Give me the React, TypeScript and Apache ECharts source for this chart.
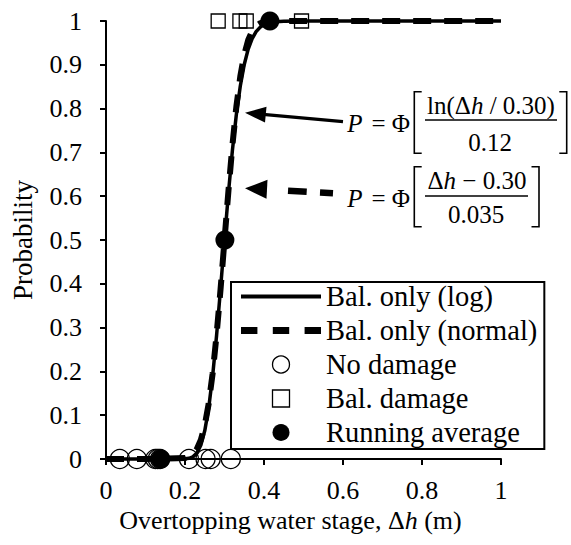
import React, { useEffect, useRef } from "react";
import * as echarts from "echarts";

// ---------- data ----------
const hValues = [0, 0.1, 0.2, 0.21, 0.22, 0.23, 0.24, 0.25, 0.26, 0.27, 0.28, 0.29, 0.3, 0.31, 0.32, 0.33, 0.34, 0.35, 0.36, 0.37, 0.38, 0.39, 0.4, 0.42, 0.45, 0.5, 0.6, 0.8, 1];
const pLog = [0, 0, 0.0004, 0.0015, 0.0049, 0.0134, 0.0314, 0.0643, 0.1164, 0.1899, 0.2826, 0.3888, 0.5, 0.6076, 0.7047, 0.7864, 0.8515, 0.9006, 0.9357, 0.9597, 0.9756, 0.9856, 0.9917, 0.9975, 0.9996, 1, 1, 1, 1];
const pNormal = [0, 0, 0.0021, 0.0051, 0.0111, 0.0228, 0.0433, 0.0766, 0.1265, 0.1957, 0.284, 0.3875, 0.5, 0.6125, 0.716, 0.8043, 0.8735, 0.9234, 0.9567, 0.9772, 0.9889, 0.9949, 0.9979, 0.9997, 1, 1, 1, 1, 1];

const noDamageX = [0.035, 0.078, 0.125, 0.131, 0.137, 0.21, 0.252, 0.265, 0.316];
const noDamageY = [0, 0, 0, 0, 0, 0, 0, 0, 0];
const balDamageX = [0.284, 0.339, 0.355, 0.495];
const balDamageY = [1, 1, 1, 1];
const runAvgX = [0.138, 0.301, 0.415];
const runAvgY = [0, 0.5, 1];

const seriesNames = ["Bal. only (log)", "Bal. only (normal)", "No damage", "Bal. damage", "Running average"];
const xTitle = "Overtopping water stage, Δ";
const yTitle = "Probability";

// ---------- styles ----------
const SERIF = "Liberation Serif";
const FS = 26;
const EQ = 25;

function txt(text: string, x: number, y: number, size = EQ, italic = false) {
  return {
    type: "text",
    silent: true,
    style: {
      text,
      x,
      y,
      fill: "#000",
      font: `${italic ? "italic " : ""}${size}px 'Liberation Serif', serif`,
      textAlign: "center",
      textVerticalAlign: "middle",
      align: "center",
      verticalAlign: "middle",
    },
  };
}

function richTxt(text: string, x: number, y: number, size = EQ) {
  return {
    type: "text",
    silent: true,
    style: {
      text,
      x,
      y,
      fill: "#000",
      fontFamily: SERIF,
      fontSize: size,
      textAlign: "center",
      textVerticalAlign: "middle",
      align: "center",
      verticalAlign: "middle",
      rich: {
        r: { fontFamily: SERIF, fontSize: size, fill: "#000" },
        i: { fontFamily: SERIF, fontSize: size, fontStyle: "italic", fill: "#000" },
      },
    },
  };
}

function seg(x1: number, y1: number, x2: number, y2: number, w: number) {
  return {
    type: "line",
    silent: true,
    shape: { x1, y1, x2, y2 },
    style: { stroke: "#000", lineWidth: w },
  };
}

function bracket(xv: number, xs: number, y1: number, y2: number) {
  return {
    type: "polyline",
    silent: true,
    shape: { points: [[xs, y1], [xv, y1], [xv, y2], [xs, y2]] },
    style: { stroke: "#000", lineWidth: 1.6, fill: null },
  };
}

function head(points: number[][]) {
  return {
    type: "polygon",
    silent: true,
    shape: { points },
    style: { fill: "#000" },
  };
}

function buildGraphic() {
  return [
    // solid arrow
    seg(343, 121.7, 263, 114.3, 3.2),
    head([[245, 112.7], [266.5, 106.8], [265, 122.6]]),
    // dashed arrow
    seg(288, 190.7, 306.7, 191.8, 6.5),
    seg(320, 192.6, 333, 193.3, 6.5),
    head([[245, 188.3], [267.5, 179.8], [266.5, 198.8]]),
    // formula 1
    txt("P", 355, 123, EQ, true),
    txt("=", 378.5, 123, EQ),
    txt("Φ", 401, 123, EQ),
    bracket(414.3, 421.7, 91.7, 153.3),
    richTxt("{r|ln(Δ}{i|h}{r| / 0.30)}", 491, 105, EQ),
    seg(425, 120, 557, 120, 1.3),
    txt("0.12", 490, 142.5, EQ),
    bracket(566.7, 559.3, 91.7, 153.3),
    // formula 2
    txt("P", 355, 198.5, EQ, true),
    txt("=", 378.5, 198.5, EQ),
    txt("Φ", 401, 198.5, EQ),
    bracket(414.3, 421.7, 166.7, 226.7),
    richTxt("{r|Δ}{i|h}{r| − 0.30}", 477, 180, EQ),
    seg(425, 196, 528, 196, 1.3),
    txt("0.035", 476, 214, EQ),
    bracket(539, 531.5, 166.7, 226.7),
  ];
}

const ICON_SOLID = "path://M0,0H78V4H0Z";
const ICON_DASH = "path://M0,0H16V7H0ZM31,0H47V7H31ZM62,0H78V7H62Z";
const ICON_SQUARE = "path://M0,0H14V14H0Z";

function buildOption() {
  const pairs = (xs: number[], ys: number[]) => xs.map((x, i) => [x, ys[i]]);
  const axisText = { fontFamily: SERIF, fontSize: FS, color: "#000" };
  const openMark = { color: "rgba(0,0,0,0)", borderColor: "#000", borderWidth: 1.3, opacity: 1 };
  return {
    animation: false,
    backgroundColor: "#fff",
    textStyle: { fontFamily: SERIF },
    grid: { left: 106, right: 70, top: 21, bottom: 86, containLabel: false },
    xAxis: {
      type: "value",
      min: 0,
      max: 1,
      interval: 0.2,
      name: `{a|${xTitle}}{i|h}{a| (m)}`,
      nameLocation: "middle",
      nameGap: 46,
      nameTextStyle: {
        fontFamily: SERIF,
        fontSize: FS,
        padding: [0, 26, 0, 0],
        rich: {
          a: { fontFamily: SERIF, fontSize: FS, color: "#000" },
          i: { fontFamily: SERIF, fontSize: FS, color: "#000", fontStyle: "italic" },
        },
      },
      axisLine: { show: true, onZero: false, lineStyle: { color: "#000", width: 2 } },
      axisTick: { show: true, inside: false, length: 6, lineStyle: { color: "#000", width: 2 } },
      axisLabel: { ...axisText, margin: 18 },
      splitLine: { show: false },
    },
    yAxis: {
      type: "value",
      min: 0,
      max: 1,
      interval: 0.1,
      name: yTitle,
      nameLocation: "middle",
      nameGap: 70,
      nameTextStyle: { fontFamily: SERIF, fontSize: 27, color: "#000" },
      axisLine: { show: true, onZero: false, lineStyle: { color: "#000", width: 2 } },
      axisTick: { show: true, inside: false, length: 6, lineStyle: { color: "#000", width: 2 } },
      axisLabel: { ...axisText, margin: 24 },
      splitLine: { show: false },
    },
    legend: {
      orient: "vertical",
      left: 231,
      top: 282,
      itemWidth: 80,
      itemHeight: 17,
      itemGap: 5,
      padding: [0, 7, 2, 10],
      borderColor: "#000",
      borderWidth: 2,
      backgroundColor: "#fff",
      selectedMode: false,
      textStyle: { fontFamily: SERIF, fontSize: 28.5, color: "#000", lineHeight: 26 },
      data: [
        { name: seriesNames[0], icon: ICON_SOLID, itemStyle: { color: "#000", borderWidth: 0, opacity: 1 } },
        { name: seriesNames[1], icon: ICON_DASH, itemStyle: { color: "#000", borderWidth: 0, opacity: 1 } },
        { name: seriesNames[2], icon: "circle", itemStyle: openMark },
        { name: seriesNames[3], icon: ICON_SQUARE, itemStyle: openMark },
        { name: seriesNames[4], icon: "circle", itemStyle: { color: "#000", borderColor: "#000", borderWidth: 0, opacity: 1 } },
      ],
    },
    series: [
      {
        name: seriesNames[0],
        type: "line",
        data: pairs(hValues, pLog),
        symbol: "none",
        clip: false,
        lineStyle: { color: "#000", width: 3.5, type: "solid", opacity: 1 },
        itemStyle: { color: "#000" },
        z: 2,
      },
      {
        name: seriesNames[1],
        type: "line",
        data: pairs(hValues, pNormal),
        symbol: "none",
        clip: false,
        lineStyle: { color: "#000", width: 6, type: [18, 13], opacity: 1 },
        itemStyle: { color: "#000" },
        z: 2,
      },
      {
        name: seriesNames[2],
        type: "scatter",
        data: pairs(noDamageX, noDamageY),
        symbol: "circle",
        symbolSize: 19,
        clip: false,
        itemStyle: openMark,
        z: 3,
      },
      {
        name: seriesNames[3],
        type: "scatter",
        data: pairs(balDamageX, balDamageY),
        symbol: "rect",
        symbolSize: 14,
        clip: false,
        itemStyle: openMark,
        z: 3,
      },
      {
        name: seriesNames[4],
        type: "scatter",
        data: pairs(runAvgX, runAvgY),
        symbol: "circle",
        symbolSize: 19,
        clip: false,
        itemStyle: { color: "#000", opacity: 1 },
        z: 4,
      },
    ],
    graphic: buildGraphic(),
  };
}

export default function App() {
  const ref = useRef<HTMLDivElement | null>(null);
  useEffect(() => {
    if (!ref.current) return;
    const chart = echarts.init(ref.current, undefined, { renderer: "svg" });
    chart.setOption(buildOption() as any);
    return () => chart.dispose();
  }, []);
  return (
    <div
      ref={ref}
      style={{ position: "fixed", left: 0, top: 0, width: 571, height: 545, background: "#fff" }}
    />
  );
}
